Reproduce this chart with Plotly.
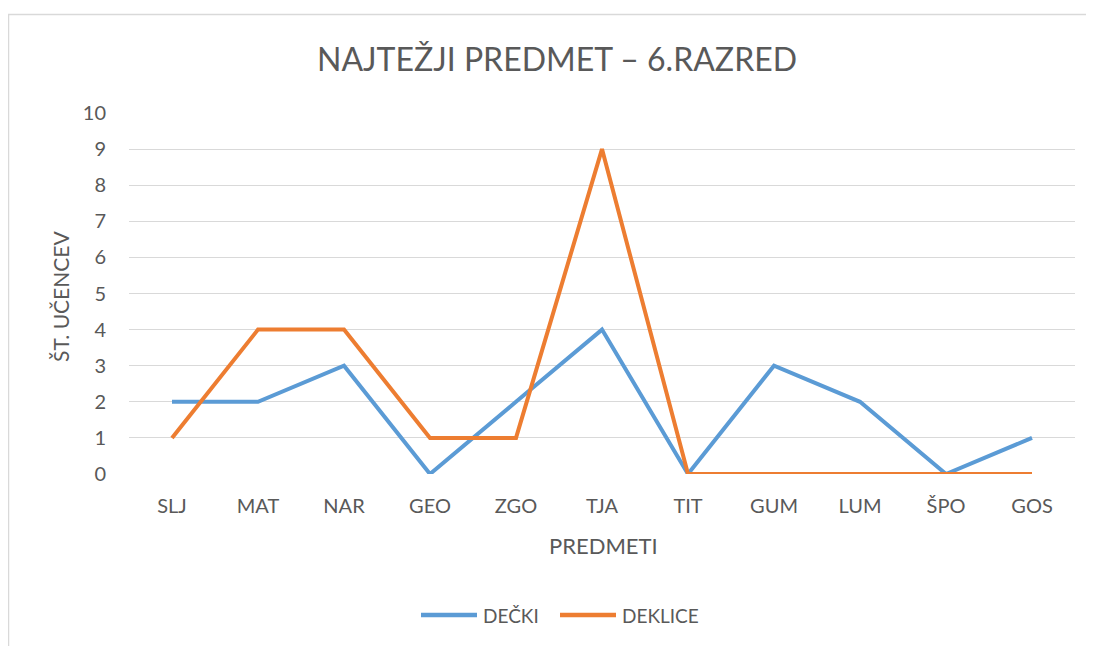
import plotly.graph_objects as go

categories = ["SLJ", "MAT", "NAR", "GEO", "ZGO", "TJA", "TIT", "GUM", "LUM", "ŠPO", "GOS"]
decki = [2, 2, 3, 0, 2, 4, 0, 3, 2, 0, 1]
deklice = [1, 4, 4, 1, 1, 9, 0, 0, 0, 0, 0]
y_ticks = list(range(0, 11))
series_names = ["DEČKI", "DEKLICE"]
series_colors = ["#5B9BD5", "#ED7D31"]

# page body has an 8px margin, so figure coords = target pixel coords - 8
OFF = 8
W, H = 1094 - OFF, 646 - OFF
L, R, T, B = 129 - OFF, 19, 113 - OFF, 172
pw, ph = W - L - R, H - T - B

def px(x):
    return (x - OFF - L) / pw

def py(y):
    return (H - B - (y - OFF)) / ph

FONT = "Lato"
GREY = "#595959"

fig = go.Figure()
for name, vals, col in zip(series_names, [decki, deklice], series_colors):
    fig.add_trace(go.Scatter(x=categories, y=vals, mode="lines", name=name,
                             line=dict(color=col, width=4), showlegend=False))

fig.update_layout(
    width=W, height=H,
    margin=dict(l=L, r=R, t=T, b=B, pad=0),
    paper_bgcolor="white", plot_bgcolor="white",
    font=dict(family=FONT, color=GREY, size=16),
    title=dict(text="NAJTEŽJI PREDMET – 6.RAZRED", x=(557 - OFF) / W, xanchor="center",
               y=1 - (60 - OFF) / H, yanchor="middle",
               font=dict(family=FONT, size=32, color=GREY)),
    showlegend=False,
    xaxis=dict(range=[-0.5, 10.5], showgrid=False, showline=False, ticks="", zeroline=False,
               ticklabelstandoff=18,
               tickfont=dict(size=20, color=GREY)),
    yaxis=dict(range=[0, 10], tickvals=y_ticks, showgrid=True, gridcolor="#d9d9d9",
               gridwidth=1.3, zeroline=False, showline=False, ticks="",
               ticklabelstandoff=22,
               tickfont=dict(size=20, color=GREY)),
)

fig.add_annotation(text="ŠT. UČENCEV", xref="paper", yref="paper", x=px(60), y=py(297),
                   xanchor="center", yanchor="middle", textangle=-90, showarrow=False,
                   font=dict(size=21, color=GREY))
fig.add_annotation(text="PREDMETI", xref="paper", yref="paper", x=px(603), y=py(545),
                   xanchor="center", yanchor="middle", showarrow=False,
                   font=dict(size=22, color=GREY))

# legend (drawn manually to match the long line samples)
legend_items = [(421, 477, 481), (560, 616, 620)]
for (lx0, lx1, tx), name, col in zip(legend_items, series_names, series_colors):
    fig.add_shape(type="line", xref="paper", yref="paper",
                  x0=px(lx0), x1=px(lx1), y0=py(615), y1=py(615),
                  line=dict(color=col, width=4.5))
    fig.add_annotation(text=name, xref="paper", yref="paper", x=px(tx), y=py(615),
                       xanchor="left", yanchor="middle", showarrow=False,
                       font=dict(size=19, color=GREY))

fig.add_shape(type="rect", xref="paper", yref="paper",
              x0=px(8.5), x1=px(1094 + 10), y0=py(646 + 10), y1=py(14.5),
              line=dict(color="#d9d9d9", width=1.5), layer="below")

fig.write_html("out.html")
